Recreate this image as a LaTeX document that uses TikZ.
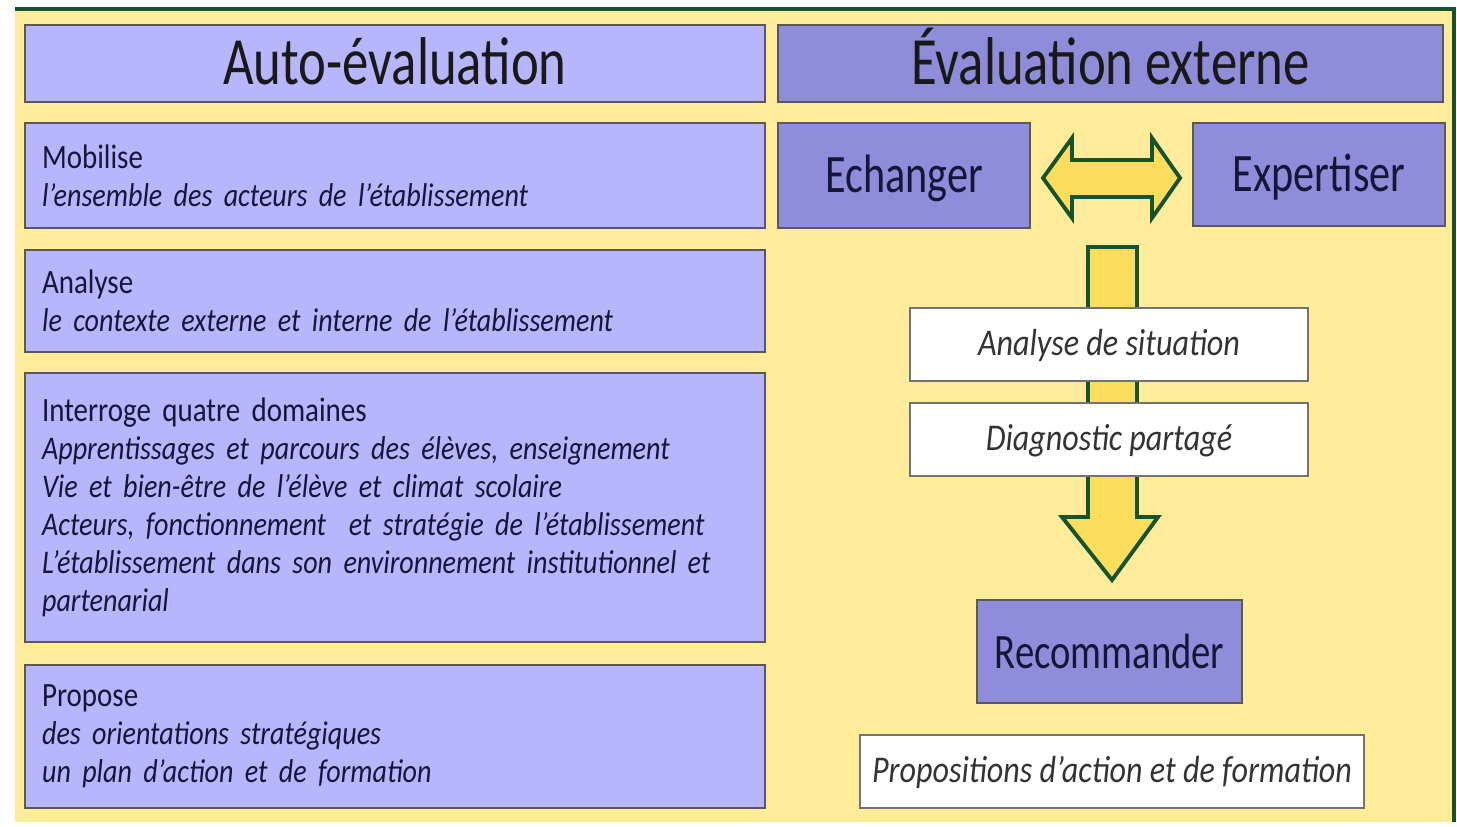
\documentclass[tikz,border=0pt]{standalone}
\usepackage{fontspec}
\setmainfont{Carlito}[FakeStretch=0.85]
\newfontfamily\grande{Carlito}[FakeStretch=0.78]
\usetikzlibrary{positioning}
\definecolor{fond}{RGB}{254,236,155}
\definecolor{cadre}{RGB}{22,82,44}
\definecolor{mauve}{RGB}{183,181,251}
\definecolor{mauvefonce}{RGB}{143,140,217}
\definecolor{fleche}{RGB}{252,221,92}
\definecolor{encre}{RGB}{22,22,58}
\newcommand{\detail}{\fontsize{18.8}{21.6}\selectfont\itshape}
\tikzset{
  titre/.style={draw=black!65, line width=0.7pt, minimum height=1.54cm, text height=28pt, text depth=3.6pt, font=\grande\fontsize{38.5}{44}\selectfont, text=black!90},
  bloc/.style={draw=black!65, line width=0.7pt, fill=mauve, text width=14.12cm, inner xsep=0.34cm, minimum height=#1, align=left, text=encre, font=\fontsize{19.4}{21.6}\selectfont},
  action/.style={draw=black!65, line width=0.7pt, fill=mauvefonce, text=encre, text height=24pt, text depth=5pt, font=\grande\fontsize{30.8}{34}\selectfont},
  resultat/.style={draw=black!55, line width=0.7pt, fill=white, text=black!80, text height=17pt, text depth=5pt, font=\fontsize{21.5}{24}\selectfont\itshape},
  grosse/.style={fill=fleche, draw=cadre, line width=2.2pt, line join=miter}
}
\begin{document}
\begin{tikzpicture}[x=0.02cm, y=-0.02cm]
  \useasboundingbox (0,0) rectangle (1457,826);
  \fill[white] (0,0) rectangle (1457,826);
  \fill[fond] (15,9) rectangle (1454,822);
  \draw[cadre, line width=2pt] (15,9) -- (1454,9) -- (1454,822);

  \node[titre, fill=mauve, minimum width=14.8cm] (auto) at (395,63.5) {Auto-évaluation};
  \node[titre, fill=mauvefonce, minimum width=13.3cm] (externe) at (1110.5,63.5) {Évaluation externe};

  \node[bloc=2.1cm] (mobilise) at (395,175.5) {Mobilise\\ \detail l’ensemble des acteurs de l’établissement};
  \node[bloc=2.04cm] (analyse) at (395,301) {Analyse\\ \detail le contexte externe et interne de l’établissement};
  \node[bloc=5.38cm] (interroge) at (395,507.5) {Interroge quatre domaines\\ \detail Apprentissages et parcours des élèves, enseignement\\ Vie et bien-être de l’élève et climat scolaire\\ Acteurs, fonctionnement \ et stratégie de l’établissement\\ L’établissement dans son environnement institutionnel et\\ partenarial};
  \node[bloc=2.86cm] (propose) at (395,736.5) {Propose\\ \detail des orientations stratégiques\\ un plan d’action et de formation};

  \node[action, minimum width=5.04cm, minimum height=2.1cm] (echanger) at (904,175.5) {Echanger};
  \node[action, minimum width=5.04cm, minimum height=2.06cm] (expertiser) at (1319,174.5) {Expertiser};
  \draw[grosse] (1043,178) -- (1072,138) -- (1072,160) -- (1152,160) -- (1152,138) -- (1180,178)
    -- (1152,218) -- (1152,197) -- (1072,197) -- (1072,218) -- cycle;

  \draw[grosse] (1088,247) -- (1137,247) -- (1137,517) -- (1158,517) -- (1112,580) -- (1062,517)
    -- (1088,517) -- cycle;
  \node[resultat, minimum width=7.96cm, minimum height=1.46cm] (situation) at (1109,344.5) {Analyse de situation};
  \node[resultat, minimum width=7.96cm, minimum height=1.46cm] (diagnostic) at (1109,439.5) {Diagnostic partagé};

  \node[action, font=\grande\fontsize{28.2}{32}\selectfont, minimum width=5.3cm, minimum height=2.06cm] (recommander) at (1109.5,651.5) {Recommander};
  \node[resultat, minimum width=10.08cm, minimum height=1.46cm] (propositions) at (1112,771.5) {Propositions d’action et de formation};
\end{tikzpicture}
\end{document}
